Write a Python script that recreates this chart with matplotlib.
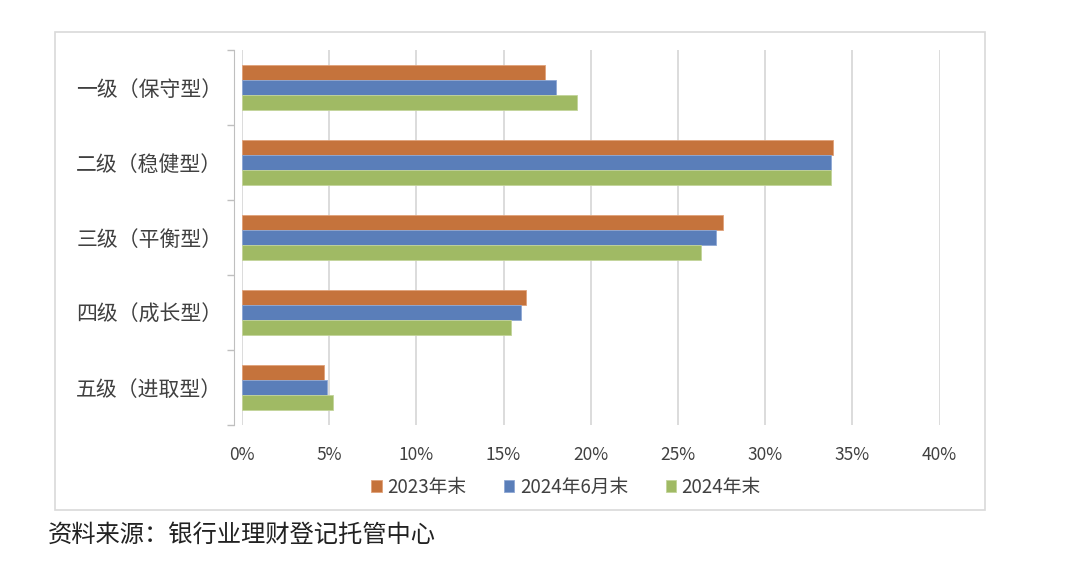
import matplotlib.pyplot as plt
from matplotlib.patches import Rectangle
import numpy as np

plt.rcParams['font.family'] = ['Noto Sans CJK SC', 'DejaVu Sans']

# 数据
categories = ['一级（保守型）', '二级（稳健型）', '三级（平衡型）', '四级（成长型）', '五级（进取型）']
series_names = ['2023年末', '2024年6月末', '2024年末']
v2023 = [17.4, 33.9, 27.6, 16.3, 4.7]
v2024h1 = [18.0, 33.8, 27.2, 16.0, 4.9]
v2024 = [19.2, 33.8, 26.3, 15.4, 5.2]
xticks = [0, 5, 10, 15, 20, 25, 30, 35, 40]

colors = ['#C5733C', '#5A7EB9', '#A0BA64']
edges = ['#E0A27A', '#8FA8D4', '#C3D49A']

fig = plt.figure(figsize=(10.8, 5.62), dpi=100)
ax = fig.add_axes([0.224, 0.2438, 0.646, 0.6673])

# 外框
fig.patches.append(Rectangle((55 / 1080, 1 - 510 / 562), 930 / 1080, 478 / 562,
                             transform=fig.transFigure, fill=False,
                             edgecolor='#D9D9D9', linewidth=1.2, zorder=0))

y = np.arange(len(categories))
h = 0.2
for i, vals in enumerate([v2023, v2024h1, v2024]):
    ax.barh(y + (i - 1) * h, vals, height=h, color=colors[i], edgecolor=edges[i],
            linewidth=0.6, label=series_names[i], zorder=3)

ax.set_xlim(0, 40)
ax.set_ylim(len(categories) - 0.5, -0.5)
ax.set_xticks(xticks)
ax.set_xticklabels([f'{t}%' for t in xticks])
ax.tick_params(axis='x', length=0, pad=15, labelsize=12.5, labelcolor='#404040')
ax.grid(axis='x', color='#D9D9D9', linewidth=1.3, zorder=0)

# 类别刻度
ax.set_yticks(np.arange(-0.5, len(categories), 1.0))
ax.set_yticklabels([])
ax.tick_params(axis='y', which='major', length=5, color='#BFBFBF', width=1)
ax.set_yticks(y, minor=True)
ax.set_yticklabels(categories, minor=True)
ax.tick_params(axis='y', which='minor', length=0, pad=8, labelsize=15,
               labelcolor='#404040')

for s in ['top', 'right', 'bottom']:
    ax.spines[s].set_visible(False)
ax.spines['left'].set_color('#BFBFBF')
ax.spines['left'].set_position(('outward', 6))

leg = fig.legend(loc='center', bbox_to_anchor=(566 / 1080, 1 - 487 / 562), ncol=3,
                 frameon=False, fontsize=13.5, handlelength=0.55, handleheight=0.55,
                 handletextpad=0.3, columnspacing=2.0)
for t in leg.get_texts():
    t.set_color('#404040')

fig.text(48 / 1080, 1 - 535 / 562, '资料来源：银行业理财登记托管中心', fontsize=17.5,
         va='center', ha='left', color='#222222')

fig.savefig('out.png', dpi=100)
